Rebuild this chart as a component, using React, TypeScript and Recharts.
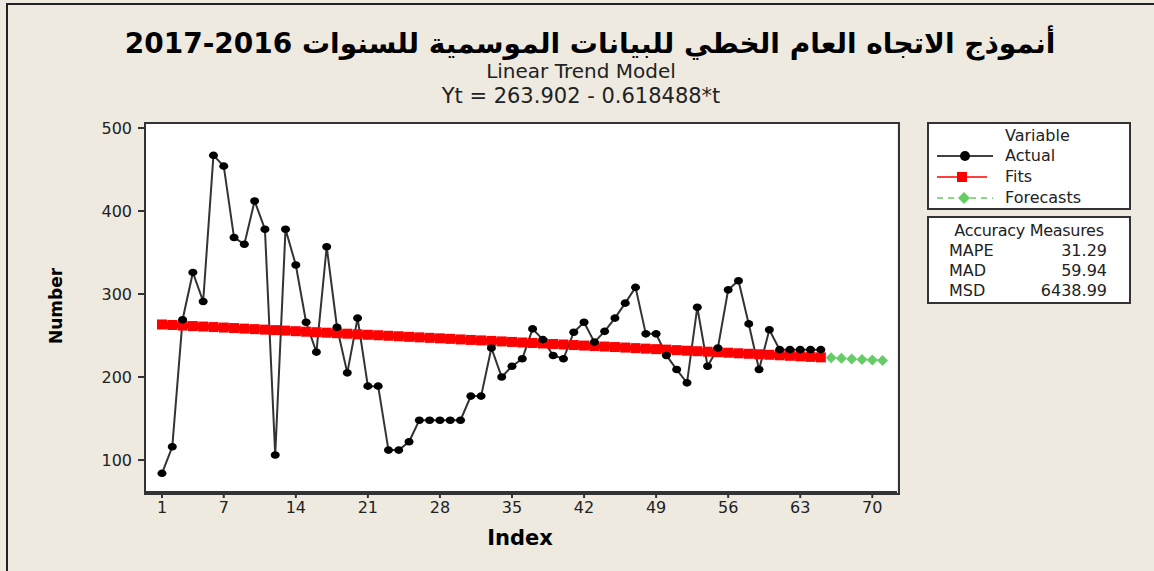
import React from "react";
import { LineChart, Line, XAxis, YAxis, CartesianGrid } from "recharts";

// index 1..65 actual observations
const actual = [
  84, 116, 269, 326, 291, 467, 454, 368, 360, 412,
  378, 106, 378, 335, 266, 230, 357, 260, 205, 271,
  189, 189, 112, 112, 122, 148, 148, 148, 148, 148,
  177, 177, 235, 200, 213, 222, 258, 245, 226, 222,
  254, 266, 242, 255, 271, 289, 308, 252, 252, 226,
  209, 193, 284, 213, 235, 305, 316, 264, 209, 257,
  233, 233, 233, 233, 233,
];

// trend line values as plotted (index 1..65)
const fits = [
  263.3, 262.7, 262.0, 261.4, 260.8, 260.2, 259.6, 259.0, 258.3, 257.7,
  257.1, 256.5, 255.9, 255.2, 254.6, 254.0, 253.4, 252.8, 252.2, 251.5,
  250.9, 250.3, 249.7, 249.1, 248.4, 247.8, 247.2, 246.6, 246.0, 245.3,
  244.7, 244.1, 243.5, 242.9, 242.3, 241.6, 241.0, 240.4, 239.8, 239.2,
  238.5, 237.9, 237.3, 236.7, 236.1, 235.5, 234.8, 234.2, 233.6, 233.0,
  232.4, 231.7, 231.1, 230.5, 229.9, 229.3, 228.6, 228.0, 227.4, 226.8,
  226.2, 225.6, 224.9, 224.3, 223.7,
];

// index 66..71
const forecasts = [223.1, 222.5, 221.8, 221.2, 220.6, 220.0];

const xTicks = [1, 7, 14, 21, 28, 35, 42, 49, 56, 63, 70];
const yTicks = [100, 200, 300, 400, 500];

const accuracy = [
  { name: "MAPE", value: "31.29" },
  { name: "MAD", value: "59.94" },
  { name: "MSD", value: "6438.99" },
];

const rows = Array.from({ length: actual.length + forecasts.length }, (_, i) => ({
  t: i + 1,
  actual: i < actual.length ? actual[i] : null,
  fits: i < fits.length ? fits[i] : null,
  forecast: i >= actual.length ? forecasts[i - actual.length] : null,
}));

const BG = "#EEEAE0";
const INK = "#222";
const FONT = "Tahoma, 'DejaVu Sans', sans-serif";

const SquareDot = (p: any) => {
  if (p.cy == null || p.value == null) return <g key={p.key} />;
  return <rect key={p.key} x={p.cx - 5} y={p.cy - 5} width={10} height={10} fill="#FF0000" />;
};

const DiamondDot = (p: any) => {
  if (p.cy == null || p.value == null) return <g key={p.key} />;
  const { cx, cy } = p;
  return (
    <path
      key={p.key}
      d={`M${cx},${cy - 5.5} L${cx + 5.5},${cy} L${cx},${cy + 5.5} L${cx - 5.5},${cy} Z`}
      fill="#66CC66"
    />
  );
};

const BlackDot = (p: any) => {
  if (p.cy == null || p.value == null) return <g key={p.key} />;
  return <ellipse key={p.key} cx={p.cx} cy={p.cy} rx={4.5} ry={3.8} fill="#000" />;
};

const tickStyle = { fill: INK, fontSize: 16, fontFamily: FONT };

const LegendRow = ({ kind, label }: { kind: string; label: string }) => {
  let sample = null;
  if (kind === "actual") {
    sample = (
      <svg width={60} height={14}>
        <line x1={2} y1={7} x2={58} y2={7} stroke="#000" strokeWidth={1.5} />
        <circle cx={30} cy={7} r={5} fill="#000" />
      </svg>
    );
  } else if (kind === "fits") {
    sample = (
      <svg width={60} height={14}>
        <line x1={2} y1={7} x2={52} y2={7} stroke="#FF0000" strokeWidth={1.5} />
        <rect x={22} y={2} width={10} height={10} fill="#FF0000" />
      </svg>
    );
  } else {
    sample = (
      <svg width={60} height={14}>
        <line x1={2} y1={7} x2={58} y2={7} stroke="#66CC66" strokeWidth={1.5} strokeDasharray="6 5" />
        <path d="M29,1 L35,7 L29,13 L23,7 Z" fill="#66CC66" />
      </svg>
    );
  }
  return (
    <div style={{ display: "flex", alignItems: "center", height: 21 }}>
      <div style={{ width: 70, paddingLeft: 6, display: "flex" }}>{sample}</div>
      <span>{label}</span>
    </div>
  );
};

export default function App() {
  return (
    <div
      style={{
        position: "absolute",
        left: 0,
        top: 0,
        width: 1154,
        height: 571,
        background: BG,
        fontFamily: FONT,
        color: INK,
        overflow: "hidden",
      }}
    >
      <div style={{ position: "absolute", left: 6, top: 3, width: 1148, height: 568, borderTop: "2px solid #222", borderLeft: "2px solid #222" }} />

      <div
        dir="rtl"
        style={{ position: "absolute", left: 0, width: 1180, top: 28, height: 32, lineHeight: "32px", textAlign: "center", fontSize: 28, fontWeight: "bold", color: "#000", whiteSpace: "nowrap" }}
      >
        أنموذج الاتجاه العام الخطي  للبيانات الموسمية للسنوات 2016-2017
      </div>
      <div style={{ position: "absolute", left: 0, width: 1162, top: 61, height: 20, lineHeight: "20px", textAlign: "center", fontSize: 20 }}>
        Linear Trend Model
      </div>
      <div style={{ position: "absolute", left: 0, width: 1162, top: 85, height: 22, lineHeight: "22px", textAlign: "center", fontSize: 21 }}>
        Yt = 263.902 - 0.618488*t
      </div>

      <div
        style={{
          position: "absolute",
          left: 56,
          top: 306,
          transform: "translate(-50%, -50%) rotate(-90deg)",
          fontSize: 17,
          fontWeight: "bold",
          color: "#000",
        }}
      >
        Number
      </div>
      <div style={{ position: "absolute", left: 520, top: 538, transform: "translate(-50%, -50%)", fontSize: 21, fontWeight: "bold", color: "#000" }}>
        Index
      </div>

      <LineChart
        width={1154}
        height={571}
        data={rows}
        margin={{ top: 123, right: 257, bottom: 39, left: 85 }}
      >
        <CartesianGrid horizontal={false} vertical={false} fill="#FFFFFF" />
        <XAxis
          dataKey="t"
          type="number"
          domain={[-0.65, 72.4]}
          ticks={xTicks}
          allowDataOverflow
          height={40}
          stroke="#333"
          axisLine={{ stroke: "#333", strokeWidth: 2 }}
          tickLine={{ stroke: "#333", strokeWidth: 2 }}
          tickSize={6}
          tickMargin={4}
          tick={tickStyle}
        />
        <YAxis
          type="number"
          domain={[61.5, 506]}
          ticks={yTicks}
          allowDataOverflow
          width={60}
          axisLine={{ stroke: "#333", strokeWidth: 2 }}
          tickLine={{ stroke: "#333", strokeWidth: 2 }}
          tickSize={7}
          tickMargin={6}
          tick={tickStyle}
        />
        <Line
          dataKey="fits"
          stroke="#FF0000"
          strokeWidth={6}
          dot={SquareDot}
          activeDot={false}
          isAnimationActive={false}
          connectNulls={false}
        />
        <Line
          dataKey="actual"
          type="linear"
          stroke="#333"
          strokeWidth={2}
          dot={BlackDot}
          activeDot={false}
          isAnimationActive={false}
          connectNulls={false}
        />
        <Line
          dataKey="forecast"
          stroke="#66CC66"
          strokeWidth={1.5}
          strokeDasharray="5 4"
          dot={DiamondDot}
          activeDot={false}
          isAnimationActive={false}
          connectNulls={false}
        />
      </LineChart>

      {/* plot frame */}
      <div
        style={{
          position: "absolute",
          left: 144,
          top: 122,
          width: 752,
          height: 369,
          border: "2px solid #333",
          pointerEvents: "none",
        }}
      />

      <div
        style={{
          position: "absolute",
          left: 927,
          top: 122,
          width: 200,
          height: 84,
          border: "2px solid #333",
          background: "#FFFFFF",
          fontSize: 16,
        }}
      >
        <div style={{ textAlign: "left", paddingLeft: 76, height: 21, lineHeight: "24px" }}>Variable</div>
        <LegendRow kind="actual" label="Actual" />
        <LegendRow kind="fits" label="Fits" />
        <LegendRow kind="forecast" label="Forecasts" />
      </div>

      <div
        style={{
          position: "absolute",
          left: 927,
          top: 216,
          width: 200,
          height: 84,
          border: "2px solid #333",
          background: "#FFFFFF",
          fontSize: 16,
        }}
      >
        <div style={{ textAlign: "center", height: 22, lineHeight: "26px", whiteSpace: "nowrap", letterSpacing: -0.3 }}>Accuracy Measures</div>
        {accuracy.map((a) => (
          <div key={a.name} style={{ display: "flex", height: 20, lineHeight: "22px", paddingLeft: 20, paddingRight: 22 }}>
            <span style={{ flex: 1 }}>{a.name}</span>
            <span>{a.value}</span>
          </div>
        ))}
      </div>
    </div>
  );
}
